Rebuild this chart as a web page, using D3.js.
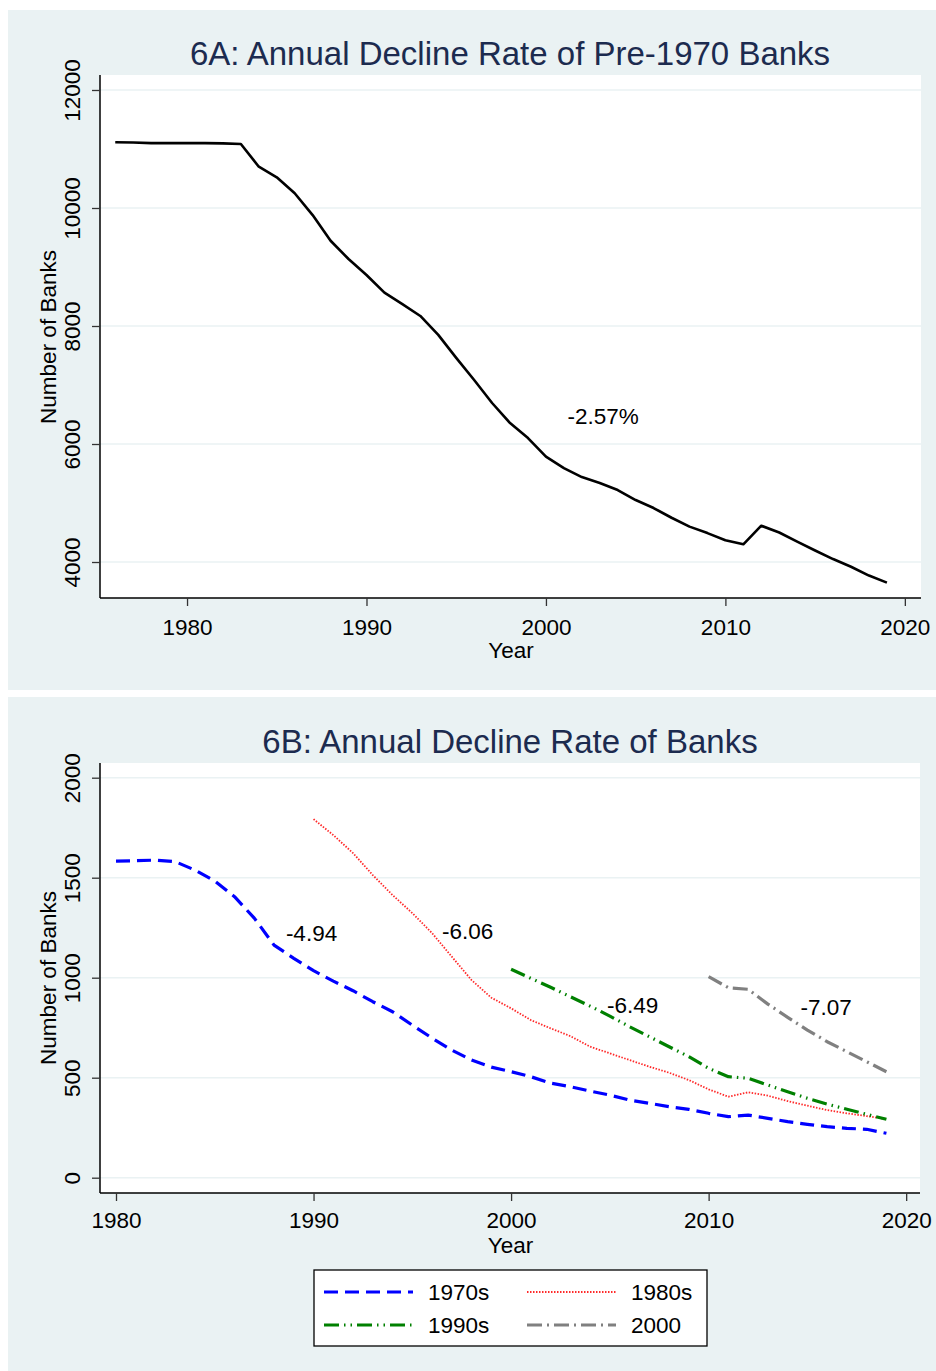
<!DOCTYPE html>
<html>
<head>
<meta charset="utf-8">
<script src="https://cdn.jsdelivr.net/npm/d3@7"></script>
<style>
  html, body { margin: 0; padding: 0; background: #ffffff; }
  svg { display: block; font-family: "Liberation Sans", Arial, sans-serif; }
</style>
</head>
<body>
<svg id="chart" width="936" height="1371"></svg>
<script>
// ---- Panel A: banks chartered before 1970 ----
const yearsA = d3.range(1976, 2020);
const banksPre1970 = [
  11114, 11110, 11100, 11100, 11100, 11100, 11095, 11085,
  10700, 10520, 10250, 9880, 9445, 9135, 8865, 8565, 8370, 8170,
  7850, 7460, 7085, 6695, 6355, 6100, 5785, 5590, 5440, 5340,
  5220, 5050, 4915, 4750, 4600, 4490, 4370, 4300, 4615, 4500,
  4345, 4195, 4050, 3920, 3770, 3650
];
const ticksA_y = [4000, 6000, 8000, 10000, 12000];
const ticksA_x = [1980, 1990, 2000, 2010, 2020];
const noteA = { year: 2001.2, value: 6475, text: "-2.57%" };

// ---- Panel B: banks by founding decade ----
const cohortNames = ["1970s", "1980s", "1990s", "2000"];
const years1970s = d3.range(1980, 2020);
const banks1970s = [
  1583, 1585, 1588, 1580, 1538, 1483, 1405, 1298, 1163, 1097,
  1035, 983, 935, 880, 830, 763, 698, 638, 588, 553,
  530, 505, 473, 455, 433, 413, 388, 372, 355, 342,
  322, 305, 313, 297, 280, 267, 255, 247, 242, 222
];
const years1980s = d3.range(1990, 2020);
const banks1980s = [
  1793, 1713, 1623, 1513, 1413, 1323, 1223, 1105, 988, 900,
  847, 788, 747, 708, 655, 622, 588, 555, 525, 488,
  442, 405, 427, 410, 383, 360, 338, 322, 308, 293
];
const years1990s = d3.range(2000, 2020);
const banks1990s = [
  1042, 997, 952, 905, 858, 808, 755, 705, 655, 605,
  547, 505, 497, 463, 430, 397, 368, 342, 317, 292
];
const years2000 = d3.range(2010, 2020);
const banks2000 = [1005, 950, 942, 868, 802, 738, 680, 630, 580, 530];
const notesB = [
  { year: 1988.6, value: 1222, text: "-4.94" },
  { year: 1996.5, value: 1232, text: "-6.06" },
  { year: 2004.85, value: 862, text: "-6.49" },
  { year: 2014.65, value: 852, text: "-7.07" }
];
const ticksB_y = [0, 500, 1000, 1500, 2000];
const ticksB_x = [1980, 1990, 2000, 2010, 2020];

// ---- styling ----
const BG = "#eaf2f3";
const TITLE = "#1c2b4f";
const FONT = 22.5;

const svg = d3.select("#chart");

function panel(cfg) {
  const g = svg.append("g");
  g.append("rect")
    .attr("x", cfg.bx).attr("y", cfg.by)
    .attr("width", cfg.bw).attr("height", cfg.bh)
    .attr("fill", BG);

  const x = d3.scaleLinear().domain(cfg.xDomain).range([cfg.left, cfg.right]);
  const y = d3.scaleLinear().domain(cfg.yDomain).range([cfg.bottom, cfg.top]);

  // plot region
  g.append("rect")
    .attr("x", cfg.left).attr("y", cfg.top)
    .attr("width", cfg.right - cfg.left).attr("height", cfg.bottom - cfg.top)
    .attr("fill", "#ffffff");

  // grid
  g.append("g").selectAll("line").data(cfg.yTicks).join("line")
    .attr("x1", cfg.left).attr("x2", cfg.right)
    .attr("y1", d => y(d)).attr("y2", d => y(d))
    .attr("stroke", BG).attr("stroke-width", 1.6);

  // y axis
  const ya = g.append("g")
    .attr("transform", `translate(${cfg.left},0)`)
    .call(d3.axisLeft(y).tickValues(cfg.yTicks).tickSize(8).tickPadding(0).tickFormat(d3.format("d")));
  ya.select(".domain").attr("stroke", "#000").attr("stroke-width", 1.5)
    .attr("d", `M0,${cfg.top}V${cfg.bottom}`);
  ya.selectAll(".tick line").attr("stroke", "#333").attr("stroke-width", 1.3);
  ya.selectAll(".tick text")
    .attr("font-size", FONT).attr("fill", "#000")
    .attr("font-family", "Liberation Sans, Arial, sans-serif")
    .attr("text-anchor", "middle")
    .attr("dy", null)
    .attr("x", null)
    .attr("transform", "translate(-20,0) rotate(-90)");

  // x axis
  const xa = g.append("g")
    .attr("transform", `translate(0,${cfg.bottom})`)
    .call(d3.axisBottom(x).tickValues(cfg.xTicks).tickSize(8).tickPadding(cfg.xPad).tickFormat(d3.format("d")));
  xa.select(".domain").attr("stroke", "#000").attr("stroke-width", 1.5)
    .attr("d", `M${cfg.left},0H${cfg.right}`);
  xa.selectAll(".tick line").attr("stroke", "#333").attr("stroke-width", 1.3);
  xa.selectAll(".tick text")
    .attr("font-size", FONT).attr("fill", "#000")
    .attr("font-family", "Liberation Sans, Arial, sans-serif");

  // titles
  g.append("text")
    .attr("x", cfg.titleX).attr("y", cfg.titleY)
    .attr("text-anchor", "middle")
    .attr("font-size", 33).attr("fill", TITLE)
    .text(cfg.title);
  g.append("text")
    .attr("x", (cfg.left + cfg.right) / 2 + 0.5).attr("y", cfg.bottom + 60)
    .attr("text-anchor", "middle")
    .attr("font-size", FONT).attr("fill", "#000")
    .text("Year");
  g.append("text")
    .attr("transform", `translate(${56},${cfg.yLabelY}) rotate(-90)`)
    .attr("text-anchor", "middle")
    .attr("font-size", FONT).attr("fill", "#000")
    .text("Number of Banks");

  return { g, x, y };
}

// ---- Panel A ----
const A = panel({
  bx: 8, by: 10, bw: 928, bh: 680,
  left: 100, right: 921, top: 75, bottom: 598,
  xDomain: [1975.15, 2020.9],
  yDomain: [3390, 12254],
  xTicks: ticksA_x, yTicks: ticksA_y, xPad: 13,
  title: "6A: Annual Decline Rate of Pre-1970 Banks",
  titleX: 510, titleY: 65, yLabelY: 337
});
A.g.append("path")
  .datum(yearsA.map((yr, i) => [yr, banksPre1970[i]]))
  .attr("fill", "none").attr("stroke", "#000").attr("stroke-width", 2.6)
  .attr("stroke-linejoin", "round")
  .attr("d", d3.line().x(d => A.x(d[0])).y(d => A.y(d[1])));
A.g.append("text")
  .attr("x", A.x(noteA.year)).attr("y", A.y(noteA.value) + 8)
  .attr("font-size", FONT).attr("fill", "#000")
  .text(noteA.text);

// ---- Panel B ----
const B = panel({
  bx: 8, by: 697, bw: 928, bh: 674,
  left: 100, right: 920, top: 763, bottom: 1193,
  xDomain: [1979.19, 2020.7],
  yDomain: [-76.5, 2073.5],
  xTicks: ticksB_x, yTicks: ticksB_y, xPad: 11,
  title: "6B: Annual Decline Rate of Banks",
  titleX: 510, titleY: 753, yLabelY: 978
});

const styles = [
  { color: "#0000ff", width: 3.2, dash: "14,7" },
  { color: "#ff2a2a", width: 1.8, dash: "1.5,1.5" },
  { color: "#008000", width: 3.2, dash: "15,5,1.5,5,1.5,5" },
  { color: "#808080", width: 3.2, dash: "15,5,2,5" }
];
const cohortYears = [years1970s, years1980s, years1990s, years2000];
const cohortBanks = [banks1970s, banks1980s, banks1990s, banks2000];
const lineB = d3.line().x(d => B.x(d[0])).y(d => B.y(d[1]));

cohortNames.forEach((name, k) => {
  B.g.append("path")
    .datum(cohortYears[k].map((yr, i) => [yr, cohortBanks[k][i]]))
    .attr("fill", "none")
    .attr("stroke", styles[k].color)
    .attr("stroke-width", styles[k].width)
    .attr("stroke-dasharray", styles[k].dash)
    .attr("stroke-linejoin", "round")
    .attr("d", lineB);
});

notesB.forEach(n => {
  B.g.append("text")
    .attr("x", B.x(n.year)).attr("y", B.y(n.value) + 8)
    .attr("font-size", FONT).attr("fill", "#000")
    .text(n.text);
});

// legend
const leg = svg.append("g");
leg.append("rect")
  .attr("x", 314).attr("y", 1270).attr("width", 393).attr("height", 76)
  .attr("fill", "#fff").attr("stroke", "#000").attr("stroke-width", 1.3);
const legPos = [
  { x: 324, y: 1292 }, { x: 527, y: 1292 },
  { x: 324, y: 1325 }, { x: 527, y: 1325 }
];
cohortNames.forEach((name, k) => {
  const p = legPos[k];
  leg.append("line")
    .attr("x1", p.x).attr("x2", p.x + 89)
    .attr("y1", p.y).attr("y2", p.y)
    .attr("stroke", styles[k].color)
    .attr("stroke-width", styles[k].width)
    .attr("stroke-dasharray", styles[k].dash);
  leg.append("text")
    .attr("x", p.x + 104).attr("y", p.y + 8)
    .attr("font-size", FONT).attr("fill", "#000")
    .text(name);
});
</script>
</body>
</html>
